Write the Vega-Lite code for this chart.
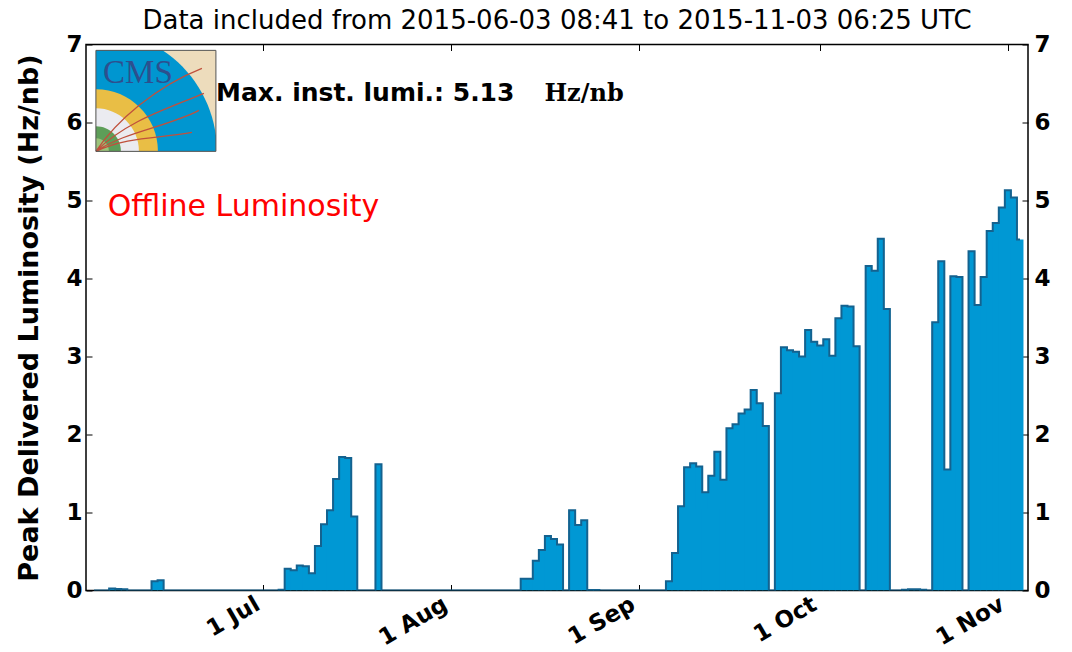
{
  "$schema": "https://vega.github.io/schema/vega-lite/v6.json",
  "width": 942,
  "height": 546,
  "autosize": "none",
  "padding": {"left": 86, "top": 44.5, "right": 44, "bottom": 61.5},
  "background": "white",
  "title": {"text": "Data included from 2015-06-03 08:41 to 2015-11-03 06:25 UTC", "font": "DejaVu Sans", "fontSize": 26, "fontWeight": "normal", "color": "black", "anchor": "middle", "offset": 0},
  "config": {
    "view": {"stroke": "black", "strokeWidth": 1.5},
    "axis": {"domain": false, "grid": false, "tickColor": "black", "tickWidth": 1, "tickSize": -6, "labelColor": "black", "labelFont": "DejaVu Sans", "labelFontWeight": "bold", "labelFontSize": 23}
  },
  "data": {"values": [
    {"date": "2015-06-03", "lumi": 0}, {"date": "2015-06-04", "lumi": 0}, {"date": "2015-06-05", "lumi": 0}, {"date": "2015-06-06", "lumi": 0.025}, {"date": "2015-06-07", "lumi": 0.02}, {"date": "2015-06-08", "lumi": 0.015}, {"date": "2015-06-09", "lumi": 0}, {"date": "2015-06-10", "lumi": 0}, {"date": "2015-06-11", "lumi": 0}, {"date": "2015-06-12", "lumi": 0}, {"date": "2015-06-13", "lumi": 0.12}, {"date": "2015-06-14", "lumi": 0.13}, {"date": "2015-06-15", "lumi": 0}, {"date": "2015-06-16", "lumi": 0}, {"date": "2015-06-17", "lumi": 0}, {"date": "2015-06-18", "lumi": 0}, {"date": "2015-06-19", "lumi": 0}, {"date": "2015-06-20", "lumi": 0}, {"date": "2015-06-21", "lumi": 0}, {"date": "2015-06-22", "lumi": 0}, {"date": "2015-06-23", "lumi": 0}, {"date": "2015-06-24", "lumi": 0}, {"date": "2015-06-25", "lumi": 0}, {"date": "2015-06-26", "lumi": 0}, {"date": "2015-06-27", "lumi": 0}, {"date": "2015-06-28", "lumi": 0}, {"date": "2015-06-29", "lumi": 0}, {"date": "2015-06-30", "lumi": 0},
    {"date": "2015-07-01", "lumi": 0}, {"date": "2015-07-02", "lumi": 0}, {"date": "2015-07-03", "lumi": 0}, {"date": "2015-07-04", "lumi": 0.01}, {"date": "2015-07-05", "lumi": 0.28}, {"date": "2015-07-06", "lumi": 0.26}, {"date": "2015-07-07", "lumi": 0.32}, {"date": "2015-07-08", "lumi": 0.31}, {"date": "2015-07-09", "lumi": 0.22}, {"date": "2015-07-10", "lumi": 0.57}, {"date": "2015-07-11", "lumi": 0.85}, {"date": "2015-07-12", "lumi": 1.03}, {"date": "2015-07-13", "lumi": 1.43}, {"date": "2015-07-14", "lumi": 1.71}, {"date": "2015-07-15", "lumi": 1.70}, {"date": "2015-07-16", "lumi": 0.95}, {"date": "2015-07-17", "lumi": 0}, {"date": "2015-07-18", "lumi": 0}, {"date": "2015-07-19", "lumi": 0}, {"date": "2015-07-20", "lumi": 1.62}, {"date": "2015-07-21", "lumi": 0}, {"date": "2015-07-22", "lumi": 0}, {"date": "2015-07-23", "lumi": 0}, {"date": "2015-07-24", "lumi": 0}, {"date": "2015-07-25", "lumi": 0}, {"date": "2015-07-26", "lumi": 0}, {"date": "2015-07-27", "lumi": 0}, {"date": "2015-07-28", "lumi": 0}, {"date": "2015-07-29", "lumi": 0}, {"date": "2015-07-30", "lumi": 0}, {"date": "2015-07-31", "lumi": 0},
    {"date": "2015-08-01", "lumi": 0}, {"date": "2015-08-02", "lumi": 0}, {"date": "2015-08-03", "lumi": 0}, {"date": "2015-08-04", "lumi": 0}, {"date": "2015-08-05", "lumi": 0}, {"date": "2015-08-06", "lumi": 0}, {"date": "2015-08-07", "lumi": 0}, {"date": "2015-08-08", "lumi": 0}, {"date": "2015-08-09", "lumi": 0}, {"date": "2015-08-10", "lumi": 0}, {"date": "2015-08-11", "lumi": 0}, {"date": "2015-08-12", "lumi": 0}, {"date": "2015-08-13", "lumi": 0.15}, {"date": "2015-08-14", "lumi": 0.15}, {"date": "2015-08-15", "lumi": 0.38}, {"date": "2015-08-16", "lumi": 0.52}, {"date": "2015-08-17", "lumi": 0.70}, {"date": "2015-08-18", "lumi": 0.66}, {"date": "2015-08-19", "lumi": 0.59}, {"date": "2015-08-20", "lumi": 0}, {"date": "2015-08-21", "lumi": 1.03}, {"date": "2015-08-22", "lumi": 0.84}, {"date": "2015-08-23", "lumi": 0.90}, {"date": "2015-08-24", "lumi": 0.005}, {"date": "2015-08-25", "lumi": 0.005}, {"date": "2015-08-26", "lumi": 0}, {"date": "2015-08-27", "lumi": 0}, {"date": "2015-08-28", "lumi": 0}, {"date": "2015-08-29", "lumi": 0}, {"date": "2015-08-30", "lumi": 0}, {"date": "2015-08-31", "lumi": 0},
    {"date": "2015-09-01", "lumi": 0}, {"date": "2015-09-02", "lumi": 0}, {"date": "2015-09-03", "lumi": 0}, {"date": "2015-09-04", "lumi": 0}, {"date": "2015-09-05", "lumi": 0}, {"date": "2015-09-06", "lumi": 0.12}, {"date": "2015-09-07", "lumi": 0.48}, {"date": "2015-09-08", "lumi": 1.08}, {"date": "2015-09-09", "lumi": 1.58}, {"date": "2015-09-10", "lumi": 1.63}, {"date": "2015-09-11", "lumi": 1.59}, {"date": "2015-09-12", "lumi": 1.26}, {"date": "2015-09-13", "lumi": 1.47}, {"date": "2015-09-14", "lumi": 1.78}, {"date": "2015-09-15", "lumi": 1.42}, {"date": "2015-09-16", "lumi": 2.08}, {"date": "2015-09-17", "lumi": 2.13}, {"date": "2015-09-18", "lumi": 2.27}, {"date": "2015-09-19", "lumi": 2.32}, {"date": "2015-09-20", "lumi": 2.57}, {"date": "2015-09-21", "lumi": 2.40}, {"date": "2015-09-22", "lumi": 2.11}, {"date": "2015-09-23", "lumi": 0}, {"date": "2015-09-24", "lumi": 2.53}, {"date": "2015-09-25", "lumi": 3.12}, {"date": "2015-09-26", "lumi": 3.08}, {"date": "2015-09-27", "lumi": 3.06}, {"date": "2015-09-28", "lumi": 3.00}, {"date": "2015-09-29", "lumi": 3.34}, {"date": "2015-09-30", "lumi": 3.19},
    {"date": "2015-10-01", "lumi": 3.14}, {"date": "2015-10-02", "lumi": 3.22}, {"date": "2015-10-03", "lumi": 3.01}, {"date": "2015-10-04", "lumi": 3.49}, {"date": "2015-10-05", "lumi": 3.65}, {"date": "2015-10-06", "lumi": 3.64}, {"date": "2015-10-07", "lumi": 3.13}, {"date": "2015-10-08", "lumi": 0}, {"date": "2015-10-09", "lumi": 4.16}, {"date": "2015-10-10", "lumi": 4.10}, {"date": "2015-10-11", "lumi": 4.51}, {"date": "2015-10-12", "lumi": 3.61}, {"date": "2015-10-13", "lumi": 0}, {"date": "2015-10-14", "lumi": 0}, {"date": "2015-10-15", "lumi": 0.01}, {"date": "2015-10-16", "lumi": 0.015}, {"date": "2015-10-17", "lumi": 0.015}, {"date": "2015-10-18", "lumi": 0.01}, {"date": "2015-10-19", "lumi": 0}, {"date": "2015-10-20", "lumi": 3.44}, {"date": "2015-10-21", "lumi": 4.22}, {"date": "2015-10-22", "lumi": 1.55}, {"date": "2015-10-23", "lumi": 4.03}, {"date": "2015-10-24", "lumi": 4.02}, {"date": "2015-10-25", "lumi": 0}, {"date": "2015-10-26", "lumi": 4.35}, {"date": "2015-10-27", "lumi": 3.66}, {"date": "2015-10-28", "lumi": 4.02}, {"date": "2015-10-29", "lumi": 4.61}, {"date": "2015-10-30", "lumi": 4.71}, {"date": "2015-10-31", "lumi": 4.91},
    {"date": "2015-11-01", "lumi": 5.13}, {"date": "2015-11-02", "lumi": 5.04}, {"date": "2015-11-03", "lumi": 4.50}
  ]},
  "layer": [
    {
      "mark": {"type": "bar", "width": 7, "color": "#0098d4", "clip": true},
      "encoding": {
        "x": {"field": "date", "type": "temporal",
              "scale": {"type": "utc", "domain": [{"year": 2015, "month": 6, "date": 2, "hours": 12, "utc": true}, {"year": 2015, "month": 11, "date": 3, "hours": 12, "utc": true}]},
              "axis": {"orient": "bottom", "title": null, "labelExpr": "utcFormat(datum.value, '%-d %b')", "labelAngle": -30, "labelAlign": "right", "labelBaseline": "bottom", "labelPadding": 28,
                       "values": [{"year": 2015, "month": 7, "date": 1, "utc": true}, {"year": 2015, "month": 8, "date": 1, "utc": true}, {"year": 2015, "month": 9, "date": 1, "utc": true}, {"year": 2015, "month": 10, "date": 1, "utc": true}, {"year": 2015, "month": 11, "date": 1, "utc": true}]}},
        "y": {"field": "lumi", "type": "quantitative", "scale": {"domain": [0, 7], "nice": false},
              "axis": {"orient": "left", "values": [0, 1, 2, 3, 4, 5, 6, 7], "labelPadding": 10, "title": "Peak Delivered Luminosity (Hz/nb)", "titleFont": "DejaVu Sans", "titleFontWeight": "bold", "titleFontSize": 27, "titleColor": "black", "titlePadding": 22}}
      }
    },
    {
      "mark": {"type": "line", "interpolate": "step", "color": "#14628f", "strokeWidth": 2, "clip": true},
      "encoding": {
        "x": {"field": "date", "type": "temporal",
              "axis": {"orient": "top", "title": null, "labels": false,
                       "values": [{"year": 2015, "month": 7, "date": 1, "utc": true}, {"year": 2015, "month": 8, "date": 1, "utc": true}, {"year": 2015, "month": 9, "date": 1, "utc": true}, {"year": 2015, "month": 10, "date": 1, "utc": true}, {"year": 2015, "month": 11, "date": 1, "utc": true}]}},
        "y": {"field": "lumi", "type": "quantitative",
              "axis": {"orient": "right", "values": [0, 1, 2, 3, 4, 5, 6, 7], "labelPadding": 12, "title": null}}
      }
    },
    {
      "data": {"values": [{}]},
      "mark": {"type": "point", "shape": "M0,0 L0,-10.1 L12,-10.1 L12,0 Z", "size": 400, "filled": true, "fill": "#eddcbc", "strokeWidth": 0, "opacity": 1},
      "encoding": {"x": {"datum": {"year": 2015, "month": 6, "date": 3, "hours": 7, "minutes": 28, "utc": true}, "type": "temporal", "axis": null}, "y": {"datum": 5.63, "type": "quantitative", "axis": null}}
    },
    {
      "data": {"values": [{}]},
      "mark": {"type": "point", "shape": "M0,0 L0,-10.1 L6.66,-10.1 A12.1,12.1 0 0,1 12,-1.55 L12,0 Z", "size": 400, "filled": true, "fill": "#0096d0", "strokeWidth": 0, "opacity": 1},
      "encoding": {"x": {"datum": {"year": 2015, "month": 6, "date": 3, "hours": 7, "minutes": 28, "utc": true}, "type": "temporal", "axis": null}, "y": {"datum": 5.63, "type": "quantitative", "axis": null}}
    },
    {
      "data": {"values": [{}]},
      "mark": {"type": "point", "shape": "M0,0 L0,-6.2 A6.2,6.2 0 0,1 6.2,0 Z", "size": 400, "filled": true, "fill": "#e9be45", "strokeWidth": 0, "opacity": 1},
      "encoding": {"x": {"datum": {"year": 2015, "month": 6, "date": 3, "hours": 7, "minutes": 28, "utc": true}, "type": "temporal", "axis": null}, "y": {"datum": 5.63, "type": "quantitative", "axis": null}}
    },
    {
      "data": {"values": [{}]},
      "mark": {"type": "point", "shape": "M0,0 L0,-4.3 A4.3,4.3 0 0,1 4.3,0 Z", "size": 400, "filled": true, "fill": "#ebebf0", "strokeWidth": 0, "opacity": 1},
      "encoding": {"x": {"datum": {"year": 2015, "month": 6, "date": 3, "hours": 7, "minutes": 28, "utc": true}, "type": "temporal", "axis": null}, "y": {"datum": 5.63, "type": "quantitative", "axis": null}}
    },
    {
      "data": {"values": [{}]},
      "mark": {"type": "point", "shape": "M0,0 L0,-2.5 A2.5,2.5 0 0,1 2.5,0 Z", "size": 400, "filled": true, "fill": "#5d9e58", "strokeWidth": 0, "opacity": 1},
      "encoding": {"x": {"datum": {"year": 2015, "month": 6, "date": 3, "hours": 7, "minutes": 28, "utc": true}, "type": "temporal", "axis": null}, "y": {"datum": 5.63, "type": "quantitative", "axis": null}}
    },
    {
      "data": {"values": [{}]},
      "mark": {"type": "point", "shape": "M0,0 L0,-1.3 A1.3,1.3 0 0,1 1.3,0 Z", "size": 400, "filled": true, "fill": "#9cc37a", "strokeWidth": 0, "opacity": 1},
      "encoding": {"x": {"datum": {"year": 2015, "month": 6, "date": 3, "hours": 7, "minutes": 28, "utc": true}, "type": "temporal", "axis": null}, "y": {"datum": 5.63, "type": "quantitative", "axis": null}}
    },
    {
      "data": {"values": [{}]},
      "mark": {"type": "point", "shape": "M0,0 C2,-3 6,-6.5 10.6,-8.3 M0,0 C3,-3 7,-4.2 10.8,-5.8 M0,0 C3,-2 7,-2.4 10.3,-4.1 M0,0 C3,-1.5 6.5,-1.3 9.6,-1.9", "size": 400, "filled": false, "stroke": "#c0503c", "strokeWidth": 1.3, "opacity": 1},
      "encoding": {"x": {"datum": {"year": 2015, "month": 6, "date": 3, "hours": 7, "minutes": 28, "utc": true}, "type": "temporal", "axis": null}, "y": {"datum": 5.63, "type": "quantitative", "axis": null}}
    },
    {
      "data": {"values": [{}]},
      "mark": {"type": "point", "shape": "M0,0 L0,-10.1 L12,-10.1 L12,0 Z", "size": 400, "filled": false, "stroke": "#555555", "strokeWidth": 1, "opacity": 1},
      "encoding": {"x": {"datum": {"year": 2015, "month": 6, "date": 3, "hours": 7, "minutes": 28, "utc": true}, "type": "temporal", "axis": null}, "y": {"datum": 5.63, "type": "quantitative", "axis": null}}
    },
    {
      "data": {"values": [{}]},
      "mark": {"type": "text", "text": "CMS", "font": "Liberation Serif", "fontSize": 33, "color": "#2d4f8e", "align": "left", "baseline": "alphabetic"},
      "encoding": {"x": {"datum": {"year": 2015, "month": 6, "date": 4, "hours": 12, "utc": true}, "type": "temporal", "axis": null}, "y": {"datum": 6.508, "type": "quantitative", "axis": null}}
    },
    {
      "data": {"values": [{}]},
      "mark": {"type": "text", "text": "Max. inst. lumi.: 5.13", "font": "DejaVu Sans", "fontWeight": "bold", "fontSize": 25, "color": "black", "align": "left", "baseline": "alphabetic"},
      "encoding": {"x": {"datum": {"year": 2015, "month": 6, "date": 23, "hours": 4, "utc": true}, "type": "temporal", "axis": null}, "y": {"datum": 6.28, "type": "quantitative", "axis": null}}
    },
    {
      "data": {"values": [{}]},
      "mark": {"type": "text", "text": "Hz/nb", "font": "DejaVu Serif", "fontWeight": "bold", "fontSize": 24, "color": "black", "align": "left", "baseline": "alphabetic"},
      "encoding": {"x": {"datum": {"year": 2015, "month": 8, "date": 16, "hours": 10, "utc": true}, "type": "temporal", "axis": null}, "y": {"datum": 6.28, "type": "quantitative", "axis": null}}
    },
    {
      "data": {"values": [{}]},
      "mark": {"type": "text", "text": "Offline Luminosity", "font": "DejaVu Sans", "fontSize": 30, "color": "#ff0000", "align": "left", "baseline": "alphabetic"},
      "encoding": {"x": {"datum": {"year": 2015, "month": 6, "date": 5, "hours": 6, "utc": true}, "type": "temporal", "axis": null}, "y": {"datum": 4.806, "type": "quantitative", "axis": null}}
    }
  ],
  "resolve": {"axis": {"x": "independent", "y": "independent"}}
}
